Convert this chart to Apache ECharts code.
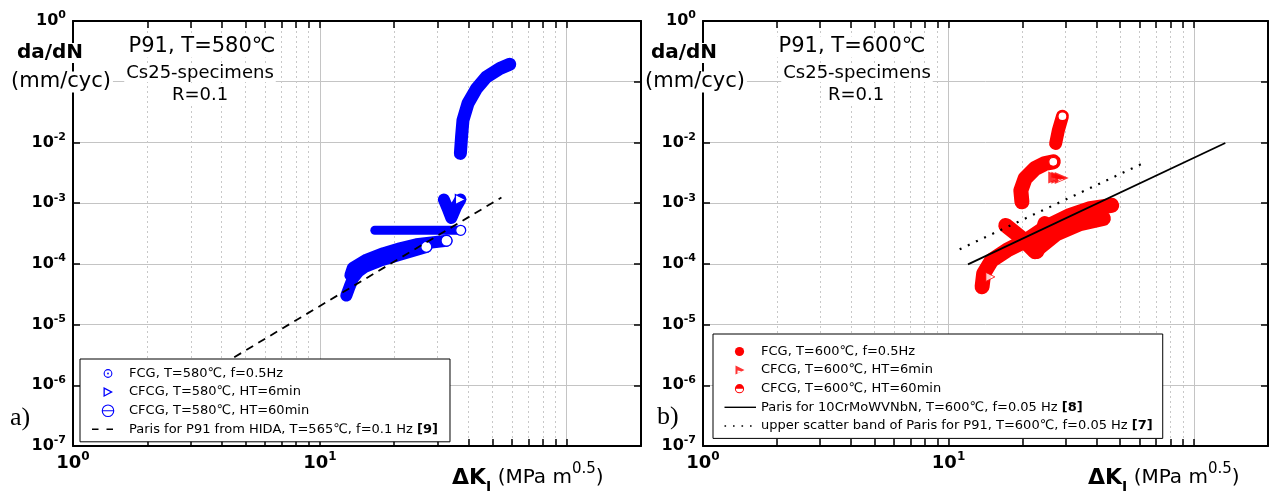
<!DOCTYPE html>
<html>
<head>
<meta charset="utf-8">
<script src="https://cdn.jsdelivr.net/npm/echarts@6/dist/echarts.min.js"></script>
<style>
html, body { margin: 0; padding: 0; background: #fff; }
#chart { width: 1270px; height: 495px; }
</style>
</head>
<body>
<div id="chart"></div>
<script>
const FONT = '"DejaVu Sans", "Liberation Sans", Arial, sans-serif';
const L = Math.log10;

// axes: decades on y, 1..200 on x
const yExponents = [-7, -6, -5, -4, -3, -2, -1, 0];
const xTickValues = [1, 2, 3, 4, 5, 6, 7, 8, 9, 10, 20, 30, 40, 50, 60, 70, 80, 90, 100, 200];
const xLabelValues = [1, 10];
const X_MIN = 1, X_MAX = 200;

// legend names
const FCG580 = 'FCG, T=580℃, f=0.5Hz';
const HT6_580 = 'CFCG, T=580℃, HT=6min';
const HT60_580 = 'CFCG, T=580℃, HT=60min';
const PARIS_HIDA = 'Paris for P91 from HIDA, T=565℃, f=0.1 Hz [9]';
const FCG600 = 'FCG, T=600℃, f=0.5Hz';
const HT6_600 = 'CFCG, T=600℃, HT=6min';
const HT60_600 = 'CFCG, T=600℃, HT=60min';
const PARIS_10CR = 'Paris for 10CrMoWVNbN, T=600℃, f=0.05 Hz [8]';
const PARIS_UPPER = 'upper scatter band of Paris for P91, T=600℃, f=0.05 Hz [7]';

// panel a) T=580°C   [ΔK (MPa m^0.5), da/dN (mm/cyc)]
const fcg580Lower = [[12.8, 3.0e-5], [13.2, 4.2e-5], [13.6, 5.7e-5], [14.3, 7.4e-5], [15.2, 8.9e-5], [17.5, 1.12e-4], [21.1, 1.41e-4], [27.0, 1.9e-4]];
const fcg580Upper = [[13.3, 6.5e-5], [13.6, 8.6e-5], [15.5, 1.18e-4], [18.1, 1.5e-4], [21.1, 1.8e-4], [24.6, 2.1e-4], [32.6, 2.4e-4]];
const ht6_580 = [[31.8, 1.15e-3], [33.0, 8.0e-4], [34.1, 5.7e-4], [35.6, 8.6e-4], [37.1, 1.15e-3]];
const ht60_580Flat = [[16.7, 3.57e-4], [37.2, 3.57e-4]];
const ht60_580Upper = [[37.1, 6.6e-3], [37.5, 1.23e-2], [38.0, 2.32e-2], [39.8, 4.37e-2], [43.1, 7.7e-2], [47.3, 0.12], [53.6, 0.165], [58.8, 0.194]];
const parisHida = [[4.5, 2.9e-6], [54.4, 1.24e-3]];

// panel b) T=600°C
const fcg600A = [[13.7, 4.2e-5], [13.9, 6.9e-5], [15.0, 1.15e-4], [17.3, 1.68e-4], [20.8, 2.45e-4], [25.1, 4.07e-4], [31.3, 6.3e-4], [37.7, 8.1e-4], [46.2, 9.2e-4]];
const fcg600B = [[17.1, 4.3e-4], [19.6, 2.77e-4], [22.5, 1.58e-4], [23.6, 1.9e-4], [27.6, 3.16e-4], [34.3, 4.6e-4], [42.7, 5.6e-4]];
const fcg600C = [[24.7, 4.6e-4], [22.9, 1.6e-4]];
const ht6_600 = [[27.2, 2.64e-3], [28.0, 2.62e-3], [28.9, 2.6e-3]];
const ht6_600Low = [[14.8, 6.1e-5]];
const ht60_600Upper = [[27.3, 9.6e-3], [28.0, 1.58e-2], [29.1, 2.7e-2]];
const ht60_600Arc = [[19.9, 1.05e-3], [19.7, 1.62e-3], [20.5, 2.54e-3], [22.5, 3.72e-3], [24.7, 4.5e-3], [26.7, 4.8e-3]];
const paris10Cr = [[12.0, 9.8e-5], [134, 9.8e-3]];
const parisUpper = [[11.1, 1.74e-4], [61.7, 4.5e-3]];

const BLUE = '#0000ff', RED = '#ff0000';
const GRID_C = '#c4c4c4';

// icon paths
function circ(cx, cy, r, ccw) {
  const s = ccw ? 0 : 1;
  return `M${cx - r},${cy}A${r},${r},0,0,${s},${cx + r},${cy}A${r},${r},0,0,${s},${cx - r},${cy}Z`;
}
function frame(w, h) { return `M0,0L0,0M${w},${h}L${w},${h}`; }
const TRI = 'path://M0,0L10,5L0,10Z';
const TRI_HOLE = 'path://M0,0L12,6L0,12ZM3,6L3,9.5L7.5,7.5Z';

const iconA = {
  fcg: 'path://' + frame(32, 13) + circ(16, 6.5, 4.4) + circ(16, 6.5, 3.3, true) + circ(16, 6.5, 0.9),
  ht6: 'path://' + frame(32, 13) + 'M11.5,1.5L21,6.5L11.5,11.5ZM12.8,3.6L12.8,9.4L18.3,6.5Z',
  ht60: 'path://' + frame(32, 13) + circ(16, 6.5, 6.3) + circ(16, 6.5, 5.2, true) + 'M10.3,6L21.7,6L21.7,7L10.3,7Z',
  dash: 'path://' + frame(32, 13) + 'M0,5.8h6.5v1.5h-6.5zM14.5,5.8h6.5v1.5h-6.5z'
};
const iconB = {
  fcg: 'path://' + frame(33, 13) + circ(16.5, 6.5, 4.6),
  ht6: 'path://' + frame(33, 13) + 'M12.5,2L21.5,6.5L12.5,11ZM14.5,7L14.5,9.6L18.5,7.6Z',
  ht60: 'path://' + frame(33, 13) + 'M11.9,6.5A4.6,4.6,0,0,1,21.1,6.5ZM11.9,6.5A4.6,4.6,0,0,0,21.1,6.5L20.1,6.5A3.6,3.6,0,0,1,12.9,6.5Z',
  solid: 'path://' + frame(33, 13) + 'M1.5,5.8h31.5v1.4h-31.5z',
  dot: 'path://' + frame(33, 13) + 'M1.5,5.8h1.6v1.6h-1.6zM10,5.8h1.6v1.6h-1.6zM18.5,5.8h1.6v1.6h-1.6zM27,5.8h1.6v1.6h-1.6z'
};

function band(name, pts, color, width, grid, endSymbol, endSize) {
  const n = pts.length;
  return {
    name, type: 'line', xAxisIndex: grid * 3, yAxisIndex: grid * 2,
    data: pts.map(p => [L(p[0]), L(p[1])]),
    lineStyle: { color, width, cap: 'round', join: 'round' },
    symbol: endSymbol || 'none', showAllSymbol: true,
    symbolSize: (v, prm) => (endSymbol && prm.dataIndex === n - 1) ? endSize : 0,
    itemStyle: { color: '#fff', borderColor: color, borderWidth: 1.3 },
    z: 3, silent: true
  };
}
function paris(name, pts, grid, type, width) {
  return {
    name, type: 'line', xAxisIndex: grid * 3, yAxisIndex: grid * 2,
    data: pts.map(p => [L(p[0]), L(p[1])]),
    symbol: 'none', lineStyle: { color: '#000', width, type },
    itemStyle: { color: '#000' }, z: 6, silent: true
  };
}
function marks(name, pts, grid, symbol, size, style) {
  return {
    name, type: 'scatter', xAxisIndex: grid * 3, yAxisIndex: grid * 2,
    data: pts.map(p => [L(p[0]), L(p[1])]),
    symbol, symbolSize: size, itemStyle: style, z: 4, silent: true
  };
}

const supRich = (big, small) => ({
  b: { fontSize: big, fontWeight: 'bold', fontFamily: FONT, color: '#000', lineHeight: big + 6 },
  s: { fontSize: small, fontWeight: 'bold', fontFamily: FONT, color: '#000', lineHeight: small, verticalAlign: 'top' }
});

function xAxes(grid) {
  const base = { type: 'value', gridIndex: grid, min: L(X_MIN), max: L(X_MAX) };
  const line = { show: true, onZero: false, lineStyle: { color: '#000', width: 2 } };
  const tick = { show: true, inside: true, length: 7, customValues: xTickValues.map(L), lineStyle: { color: '#000', width: 1.5 } };
  return [
    Object.assign({}, base, {
      position: 'bottom', axisLine: line, axisTick: tick,
      axisLabel: {
        customValues: xLabelValues.map(L), margin: 5,
        formatter: v => `{b|10}{s|${Math.round(v)}}`, rich: supRich(18, 12)
      },
      splitLine: { show: true, lineStyle: { color: '#c8c8c8', width: 1, type: [2, 3] } }
    }),
    Object.assign({}, base, {
      position: 'bottom', interval: 1, axisLine: { show: false }, axisTick: { show: false },
      axisLabel: { show: false }, splitLine: { show: true, lineStyle: { color: GRID_C, width: 1 } }
    }),
    Object.assign({}, base, {
      position: 'top', axisLine: line, axisTick: tick,
      axisLabel: { show: false }, splitLine: { show: false }
    })
  ];
}
function yAxes(grid) {
  const base = { type: 'value', gridIndex: grid, min: yExponents[0], max: yExponents[yExponents.length - 1], interval: 1 };
  const line = { show: true, onZero: false, lineStyle: { color: '#000', width: 2 } };
  const tick = { show: true, inside: true, length: 7, lineStyle: { color: '#000', width: 1.5 } };
  return [
    Object.assign({}, base, {
      position: 'left', axisLine: line, axisTick: tick,
      axisLabel: { margin: 7, formatter: v => v === -1 ? '' : `{b|10}{s|${v}}`, rich: supRich(16, 11) },
      splitLine: { show: true, lineStyle: { color: GRID_C, width: 1 } }
    }),
    Object.assign({}, base, {
      position: 'right', axisLine: line, axisTick: tick,
      axisLabel: { show: false }, splitLine: { show: false }
    })
  ];
}

function legendItem(name, icon, color) {
  return { name, icon, itemStyle: { color, borderColor: color, borderWidth: 0 } };
}
const legendBase = {
  orient: 'vertical', selectedMode: false,
  itemHeight: 13, itemGap: 5.6,
  backgroundColor: '#fff', borderColor: '#000', borderWidth: 1,
  textStyle: { fontSize: 13, fontFamily: FONT, color: '#000', rich: { r: { fontSize: 13, fontFamily: FONT, fontWeight: 'bold', color: '#000' } } },
  formatter: name => name.replace(/\[(\d+)\]$/, '{r|[$1]}')
};

function txt(x, y, text, size, extra) {
  return {
    type: 'text', x, y, z: 100,
    style: Object.assign({
      text, fill: '#000', fontSize: size, fontFamily: FONT,
      align: 'center', verticalAlign: 'middle', textAlign: 'center', textVerticalAlign: 'middle',
      backgroundColor: '#fff', padding: [0, 2]
    }, extra || {})
  };
}
const nameRich = {
  b: { fontSize: 22, fontWeight: 'bold', fontFamily: FONT, lineHeight: 32, color: '#000' },
  sub: { fontSize: 14, fontWeight: 'bold', fontFamily: FONT, lineHeight: 14, verticalAlign: 'bottom', color: '#000' },
  n: { fontSize: 20, fontFamily: FONT, lineHeight: 32, color: '#000' },
  sup: { fontSize: 15, fontFamily: FONT, lineHeight: 10, verticalAlign: 'top', color: '#000' }
};
const axisName = '{b|ΔK}{sub|I}{n| (MPa m}{sup|0.5}{n|)}';

const chart = echarts.init(document.getElementById('chart'));
chart.setOption({
  animation: false,
  backgroundColor: '#fff',
  grid: [
    { left: 73, top: 21, width: 568, height: 425 },
    { left: 703, top: 21, width: 565, height: 425 }
  ],
  xAxis: xAxes(0).concat(xAxes(1)),
  yAxis: yAxes(0).concat(yAxes(1)),
  legend: [
    Object.assign({}, legendBase, {
      left: 80, top: 359, itemWidth: 32, padding: [8, 12, 6, 12],
      data: [
        legendItem(FCG580, iconA.fcg, BLUE),
        legendItem(HT6_580, iconA.ht6, BLUE),
        legendItem(HT60_580, iconA.ht60, BLUE),
        legendItem(PARIS_HIDA, iconA.dash, '#000')
      ]
    }),
    Object.assign({}, legendBase, {
      left: 713, top: 334, itemWidth: 33, padding: [11, 10, 6, 10],
      data: [
        legendItem(FCG600, iconB.fcg, RED),
        legendItem(HT6_600, iconB.ht6, RED),
        legendItem(HT60_600, iconB.ht60, RED),
        legendItem(PARIS_10CR, iconB.solid, '#000'),
        legendItem(PARIS_UPPER, iconB.dot, '#000')
      ]
    })
  ],
  series: [
    band(FCG580, fcg580Lower, BLUE, 12, 0, 'circle', 11),
    band(FCG580, fcg580Upper, BLUE, 12, 0, 'circle', 11),
    band(HT60_580, ht60_580Flat, BLUE, 9, 0, 'circle', 10),
    band(HT60_580, ht60_580Upper, BLUE, 13, 0, 'none', 0),
    band(HT6_580, ht6_580, BLUE, 12, 0, TRI, 10),
    paris(PARIS_HIDA, parisHida, 0, [8, 6], 1.8),

    band(FCG600, fcg600A, RED, 15, 1, 'none', 0),
    band(FCG600, fcg600B, RED, 15, 1, 'none', 0),
    band(FCG600, fcg600C, RED, 15, 1, 'none', 0),
    band(HT60_600, ht60_600Upper, RED, 13, 1, 'circle', 9),
    band(HT60_600, ht60_600Arc, RED, 15, 1, 'circle', 9),
    marks(HT6_600, ht6_600, 1, TRI_HOLE, [14, 12], { color: RED }),
    marks(HT6_600, ht6_600Low, 1, TRI, [9, 9], { color: '#fff', borderColor: RED, borderWidth: 1 }),
    paris(PARIS_10CR, paris10Cr, 1, 'solid', 1.8),
    paris(PARIS_UPPER, parisUpper, 1, [2, 7], 2.2)
  ],
  graphic: [
    txt(202, 47, 'P91, T=580℃', 21),
    txt(200, 73, 'Cs25-specimens', 18),
    txt(200, 95, 'R=0.1', 18),
    txt(852, 47, 'P91, T=600℃', 21),
    txt(857, 73, 'Cs25-specimens', 18),
    txt(856, 95, 'R=0.1', 18),
    txt(50, 53, 'da/dN', 20, { fontWeight: 'bold' }),
    txt(61, 82, '(mm/cyc)', 21),
    txt(684, 53, 'da/dN', 20, { fontWeight: 'bold' }),
    txt(695, 82, '(mm/cyc)', 21),
    txt(8, 418, 'a)', 26, { fontFamily: '"Liberation Serif", "DejaVu Serif", serif', align: 'left', textAlign: 'left', backgroundColor: 'transparent' }),
    txt(655, 417, 'b)', 26, { fontFamily: '"Liberation Serif", "DejaVu Serif", serif', align: 'left', textAlign: 'left', backgroundColor: 'transparent' }),
    { type: 'text', x: 452, y: 462, z: 100, style: { text: axisName, rich: nameRich, fill: '#000' } },
    { type: 'text', x: 1088, y: 462, z: 100, style: { text: axisName, rich: nameRich, fill: '#000' } }
  ]
});
</script>
</body>
</html>
